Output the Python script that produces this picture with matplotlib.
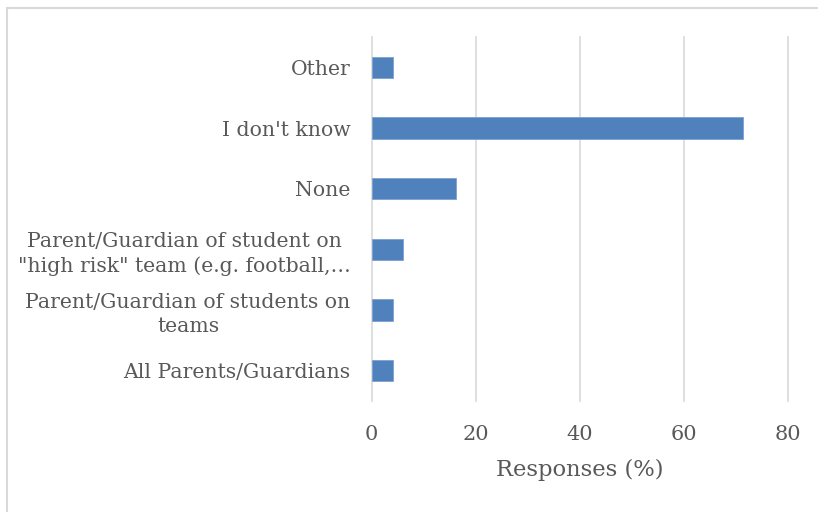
import matplotlib
matplotlib.use("Agg")
import matplotlib.pyplot as plt
from matplotlib.patches import Rectangle

# survey answers, bottom to top
categories = [
    "All Parents/Guardians",
    "Parent/Guardian of students on\nteams",
    "Parent/Guardian of student on\n\"high risk\" team (e.g. football,\u2026",
    "None",
    "I don't know",
    "Other",
]
responses = [4.1, 4.1, 6.1, 16.3, 71.4, 4.1]
xticks = [0, 20, 40, 60, 80]

text_color = "#595959"
grid_color = "#d9d9d9"
bar_color = "#4f81bd"

plt.rcParams["font.family"] = ["DejaVu Serif"]

fig = plt.figure(figsize=(8.18, 5.12), dpi=100)
ax = fig.add_axes([0.4542, 0.2168, 0.5091, 0.7109])

# chart-area border (runs off the right and bottom edges)
fig.patches.append(Rectangle((7 / 818, -0.2), 1.2, 1.2 - 8 / 512,
                             transform=fig.transFigure, fill=False,
                             edgecolor=grid_color, lw=1.5))

ypos = range(len(categories))
ax.barh(ypos, responses, height=0.35, color=bar_color,
        edgecolor="#7ea1d3", linewidth=0.6, zorder=3)

ax.set_xlim(0, 80)
ax.set_ylim(-0.5, len(categories) - 0.5)
ax.set_xticks(xticks)
ax.set_xticklabels([str(t) for t in xticks], fontsize=15)
ax.set_yticks(list(ypos))
ax.set_yticklabels(categories, multialignment="center",
                   fontsize=14.7, linespacing=1.35)

ax.grid(axis="x", color=grid_color, lw=1.2, zorder=0)
for line in ax.get_xgridlines():
    line.set_clip_on(False)
for s in ax.spines.values():
    s.set_visible(False)
ax.tick_params(length=0, colors=text_color)
ax.tick_params(axis="y", pad=15)
ax.tick_params(axis="x", pad=17)

ax.set_xlabel("Responses (%)", color=text_color, fontsize=16.3, labelpad=11)

fig.savefig("out.png", dpi=100)
